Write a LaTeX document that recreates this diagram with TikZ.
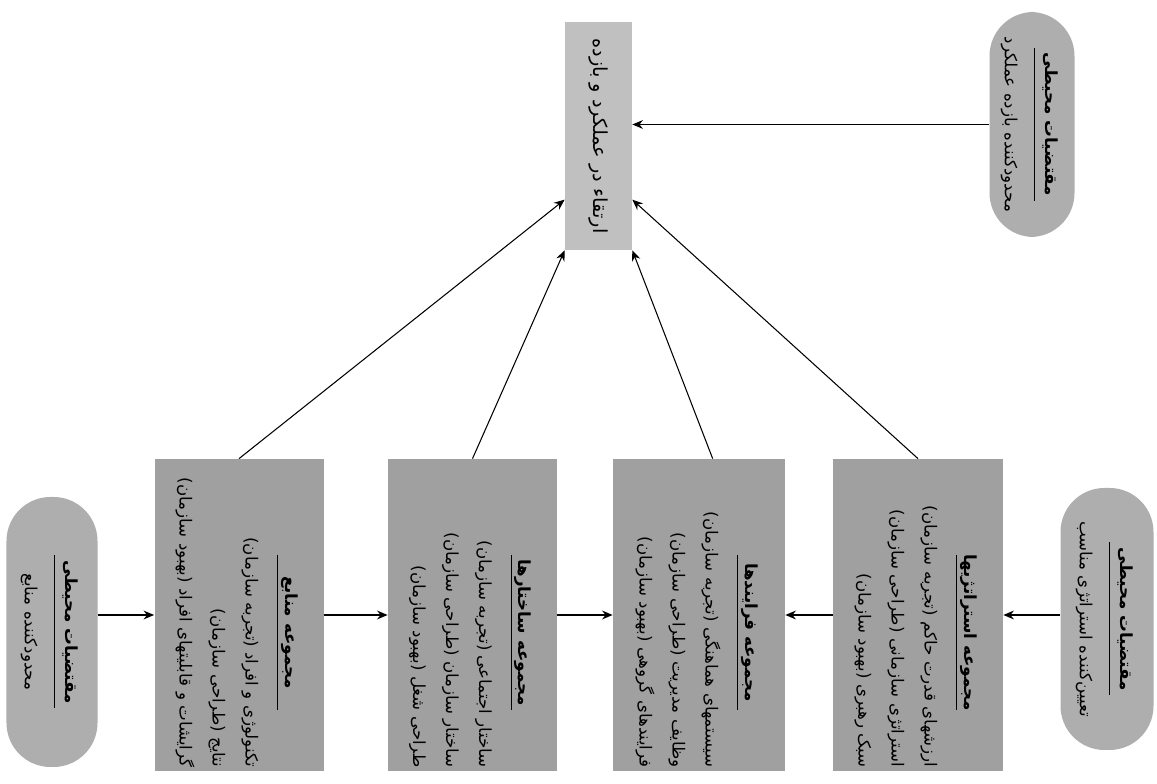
\documentclass[tikz,border=0pt]{standalone}
\usepackage{fontspec}
\usepackage{graphicx}
\usepackage{array}
\newfontfamily\farsi[Script=Arabic]{DejaVu Sans}
\TeXXeTstate=1
\usepackage{xcolor}
\definecolor{dots1}{RGB}{160,160,160}
\definecolor{dots2}{RGB}{174,174,174}
\definecolor{dots3}{RGB}{192,192,192}
\usepackage{tikz}
\usetikzlibrary{positioning, arrows.meta}

\newcommand{\boxtext}[4]{\rotatebox{-90}{\farsi\fontsize{9.5}{11.4}\selectfont\renewcommand{\arraystretch}{1.65}%
  \begin{tabular}{@{}>{\raggedleft\arraybackslash}p{6.1cm}@{}}
    \makebox[5.4cm]{\bfseries #1}\\[-14.2pt]
    \makebox[5.4cm]{\rule{3.1cm}{0.6pt}}\\[-0.9pt]
    #2\\
    #3\\
    #4
  \end{tabular}}}
\newcommand{\pilltext}[2]{\rotatebox{-90}{\farsi\fontsize{9.5}{11.4}\selectfont\renewcommand{\arraystretch}{1.65}%
  \begin{tabular}{@{}c@{}}
    \bfseries #1\\[-12.2pt]
    \rule{3.06cm}{0.6pt}\\[-2.1pt]
    #2
  \end{tabular}}}

\tikzstyle{area} = [
    rectangle, text centered,
    inner sep=0pt,
]
\tikzstyle{setbox} = [
    area,
    minimum width=3.38cm,
    minimum height=6.24cm,
    fill=dots1,
]
\tikzstyle{envpill} = [
    area,
    rounded corners=0.88cm,
    fill=dots2,
]
\tikzstyle{goalbox} = [
    area,
    minimum width=1.34cm,
    minimum height=4.56cm,
    fill=dots3,
]
\tikzstyle{arrow} = [->,>={Stealth[length=6pt,width=5pt]}, thick]

\begin{document}
\begin{tikzpicture}
    \useasboundingbox (0,0) rectangle (23.14,15.68);

    % boxes
    \node (envres) at (1.04,3.04) [envpill,minimum width=1.82cm,minimum height=5.4cm]
        {\pilltext{\beginR مقتضیات محیطی\endR}{\beginR محدودکننده منابع\endR}};
    \node (res) at (4.78,3.38) [setbox]
        {\boxtext{\beginR مجموعه منابع\endR}
                 {\beginR تکنولوژی و افراد (تجربه سازمان)\endR}
                 {\beginR نتایج (طراحی سازمان)\endR}
                 {\beginR گرایشات و قابلیتهای افراد (بهبود سازمان)\endR}};
    \node (struct) at (9.45,3.38) [setbox]
        {\boxtext{\beginR مجموعه ساختارها\endR}
                 {\beginR ساختار اجتماعی (تجربه سازمان)\endR}
                 {\beginR ساختار سازمان (طراحی سازمان)\endR}
                 {\beginR طراحی شغل (بهبود سازمان)\endR}};
    \node (proc) at (13.98,3.38) [setbox,minimum width=3.44cm]
        {\boxtext{\beginR مجموعه فرایندها\endR}
                 {\beginR سیستمهای هماهنگی (تجربه سازمان)\endR}
                 {\beginR وظایف مدیریت (طراحی سازمان)\endR}
                 {\beginR فرایندهای گروهی (بهبود سازمان)\endR}};
    \node (strat) at (18.36,3.38) [setbox,minimum width=3.4cm]
        {\boxtext{\beginR مجموعه استراتژیها\endR}
                 {\beginR ارزشهای قدرت حاکم (تجربه سازمان)\endR}
                 {\beginR استراتژی سازمانی (طراحی سازمان)\endR}
                 {\beginR سبک رهبری (بهبود سازمان)\endR}};
    \node (envstrat) at (22.14,3.30) [envpill,minimum width=1.86cm,minimum height=5.24cm]
        {\pilltext{\beginR مقتضیات محیطی\endR}{\beginR تعیین‌کننده استراتژی مناسب\endR}};
    \node (perf) at (11.97,12.96) [goalbox]
        {\rotatebox{-90}{\farsi\fontsize{11}{13}\selectfont\beginR ارتقاء در عملکرد و بازده\endR}};
    \node (envperf) at (20.64,13.19) [envpill,minimum width=1.7cm,minimum height=4.5cm]
        {\pilltext{\beginR مقتضیات محیطی\endR}{\beginR محدودکننده بازده عملکرد\endR}};

    % arrows
    \draw [arrow] (envres.east |- res.west) to (res.west);
    \draw [arrow] (res.east) to (struct.west);
    \draw [arrow] (struct.east) to (proc.west);
    \draw [arrow] (strat.west) to (proc.east);
    \draw [arrow] (envstrat.west |- strat.east) to (strat.east);
    \draw [arrow] (envperf.west) to (envperf.west -| perf.east);

    \foreach \from/\to in {res.north/perf.242, struct.north/perf.south west, proc.85/perf.south east, strat.north/perf.298} {
        \draw [arrow,semithick] (\from) to (\to);
    }

\end{tikzpicture}
\end{document}
